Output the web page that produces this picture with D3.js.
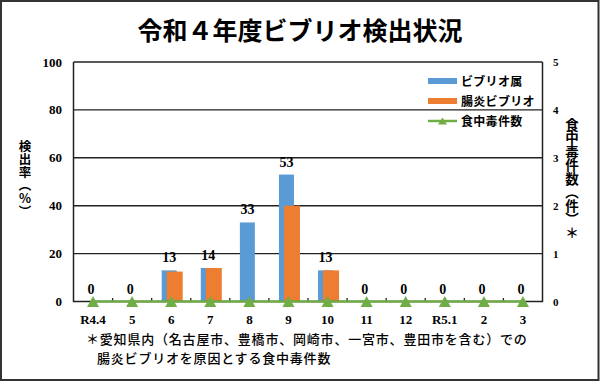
<!DOCTYPE html>
<head>
<meta charset="utf-8">
<style>
  body { margin: 0; background: #fff; }
  svg { display: block; }
  .jp { font-family: "Noto Sans CJK JP", sans-serif; }
  .num { font-family: "Liberation Serif", "Times New Roman", serif; font-weight: bold; }
</style>
</head>
<body>
<div id='chart'></div>
<script src="https://cdnjs.cloudflare.com/ajax/libs/d3/7.8.5/d3.min.js"></script>
<script>
var months = ['R4.4', '5', '6', '7', '8', '9', '10', '11', '12', 'R5.1', '2', '3'];
var vibrioGenus = [0, 0, 13, 14, 33, 53, 13, 0, 0, 0, 0, 0];
var vParahaem = [0, 0, 12.5, 14, 0, 40, 13, 0, 0, 0, 0, 0];
var poisoningCases = [0, 0, 0, 0, 0, 0, 0, 0, 0, 0, 0, 0];
var leftTicks = [0, 20, 40, 60, 80, 100];
var rightTicks = [0, 1, 2, 3, 4, 5];

var W = 600, H = 385;
var plot = { left: 73.5, right: 542.5, top: 62, bottom: 301.5 };
var blue = '#5B9BD5', orange = '#ED7D31', green = '#70AD47';

var svg = d3.select('#chart').append('svg')
  .attr('width', W)
  .attr('height', H);

svg.append('rect')
  .attr('x', 1).attr('y', 1)
  .attr('width', 597.5).attr('height', 379)
  .attr('fill', '#fff')
  .attr('stroke', '#333')
  .attr('stroke-width', 2);

svg.append('text')
  .attr('class', 'jp')
  .attr('x', 300).attr('y', 40)
  .attr('text-anchor', 'middle')
  .attr('font-size', 25)
  .attr('font-weight', 'bold')
  .text('令和４年度ビブリオ検出状況');

var x = d3.scaleBand().domain(months).range([plot.left, plot.right]);
var y = d3.scaleLinear().domain([0, 100]).range([plot.bottom, plot.top]);
var y2 = d3.scaleLinear().domain([0, 5]).range([plot.bottom, plot.top]);
var cx = function(d) { return x(d) + x.bandwidth() / 2; };

// gridlines
svg.append('g').selectAll('line')
  .data(leftTicks.slice(1)).enter().append('line')
  .attr('x1', plot.left).attr('x2', plot.right)
  .attr('y1', function(d) { return y(d); })
  .attr('y2', function(d) { return y(d); })
  .attr('stroke', '#222')
  .attr('stroke-width', 1.4);

// bars
svg.append('g').selectAll('rect')
  .data(months).enter().append('rect')
  .attr('x', function(d) { return cx(d) - 9.5; })
  .attr('width', 15)
  .attr('y', function(d, i) { return y(vibrioGenus[i]); })
  .attr('height', function(d, i) { return y(0) - y(vibrioGenus[i]); })
  .attr('fill', blue);

svg.append('g').selectAll('rect')
  .data(months).enter().append('rect')
  .attr('x', function(d) { return cx(d) - 4.5; })
  .attr('width', 16)
  .attr('y', function(d, i) { return y(vParahaem[i]); })
  .attr('height', function(d, i) { return y(0) - y(vParahaem[i]); })
  .attr('fill', orange);

// data labels
svg.append('g').selectAll('text')
  .data(months).enter().append('text')
  .attr('class', 'num')
  .attr('x', function(d) { return cx(d) - 2; })
  .attr('y', function(d, i) { return y(vibrioGenus[i]) - 8; })
  .attr('text-anchor', 'middle')
  .attr('font-size', 14)
  .text(function(d, i) { return vibrioGenus[i]; });

// axes frame
var axisG = svg.append('g').attr('fill', 'none').attr('stroke', '#222').attr('stroke-width', 1.5);
axisG.append('path')
  .attr('d', 'M' + plot.left + ',' + plot.top + 'V' + plot.bottom + 'H' + plot.right + 'V' + plot.top);

// category boundary ticks
svg.append('g').selectAll('line')
  .data(months.slice(1)).enter().append('line')
  .attr('x1', function(d) { return x(d); })
  .attr('x2', function(d) { return x(d); })
  .attr('y1', plot.bottom)
  .attr('y2', plot.bottom - 3.5)
  .attr('stroke', '#222')
  .attr('stroke-width', 1.3);

// line series
var line = d3.line()
  .x(function(d, i) { return cx(months[i]); })
  .y(function(d) { return y2(d); });

svg.append('path')
  .datum(poisoningCases)
  .attr('d', line)
  .attr('fill', 'none')
  .attr('stroke', green)
  .attr('stroke-width', 2.5);

var tri = 'M0,-5.5L6,5.5L-6,5.5Z';
svg.append('g').selectAll('path')
  .data(poisoningCases).enter().append('path')
  .attr('d', tri)
  .attr('transform', function(d, i) { return 'translate(' + cx(months[i]) + ',' + y2(d) + ')'; })
  .attr('fill', green);

// left tick labels
svg.append('g').selectAll('text')
  .data(leftTicks).enter().append('text')
  .attr('class', 'num')
  .attr('x', 62)
  .attr('y', function(d) { return y(d) + 4.5; })
  .attr('text-anchor', 'end')
  .attr('font-size', 13)
  .text(function(d) { return d; });

// right tick labels
svg.append('g').selectAll('text')
  .data(rightTicks).enter().append('text')
  .attr('class', 'num')
  .attr('x', 553)
  .attr('y', function(d) { return y2(d) + 4; })
  .attr('font-size', 11)
  .text(function(d) { return d; });

// x labels
svg.append('g').selectAll('text')
  .data(months).enter().append('text')
  .attr('class', 'num')
  .attr('x', function(d) { return cx(d); })
  .attr('y', 324)
  .attr('text-anchor', 'middle')
  .attr('font-size', 13)
  .text(function(d) { return d; });

// axis titles (vertical)
svg.append('text')
  .attr('class', 'jp')
  .attr('x', 25).attr('y', 140)
  .attr('font-size', 12.5)
  .attr('font-weight', 'bold')
  .attr('letter-spacing', 0.5)
  .style('writing-mode', 'vertical-rl')
  .style('text-orientation', 'upright')
  .text('検出率（%）');

svg.append('text')
  .attr('class', 'jp')
  .attr('x', 572).attr('y', 118)
  .attr('font-size', 13.5)
  .attr('font-weight', 'bold')
  .style('writing-mode', 'vertical-rl')
  .text('食中毒件数（件）＊');

// legend
var legend = [
  { name: 'ビブリオ属', color: blue, type: 'bar' },
  { name: '腸炎ビブリオ', color: orange, type: 'bar' },
  { name: '食中毒件数', color: green, type: 'line' }
];
var lg = svg.append('g').selectAll('g')
  .data(legend).enter().append('g')
  .attr('transform', function(d, i) { return 'translate(428,' + (81 + i * 20) + ')'; });

lg.filter(function(d) { return d.type === 'bar'; }).append('rect')
  .attr('x', 0).attr('y', -3)
  .attr('width', 29).attr('height', 6)
  .attr('fill', function(d) { return d.color; });

var lineItems = lg.filter(function(d) { return d.type === 'line'; });
lineItems.append('line')
  .attr('x1', 0).attr('x2', 29)
  .attr('stroke', function(d) { return d.color; })
  .attr('stroke-width', 2.5);
lineItems.append('path')
  .attr('d', 'M14.5,-3.5L19,3.5L10,3.5Z')
  .attr('fill', function(d) { return d.color; });

lg.append('text')
  .attr('class', 'jp')
  .attr('x', 33).attr('y', 4.5)
  .attr('font-size', 12)
  .attr('font-weight', 'bold')
  .attr('letter-spacing', 0.3)
  .text(function(d) { return d.name; });

// footnote
var notes = [
  { text: '＊愛知県内（名古屋市、豊橋市、岡崎市、一宮市、豊田市を含む）での', x: 86, y: 344 },
  { text: '腸炎ビブリオを原因とする食中毒件数', x: 97, y: 363 }
];
svg.append('g').selectAll('text')
  .data(notes).enter().append('text')
  .attr('class', 'jp')
  .attr('x', function(d) { return d.x; })
  .attr('y', function(d) { return d.y; })
  .attr('font-size', 13)
  .attr('font-weight', 500)
  .attr('letter-spacing', 0.8)
  .text(function(d) { return d.text; });
</script>
</body>
</html>
